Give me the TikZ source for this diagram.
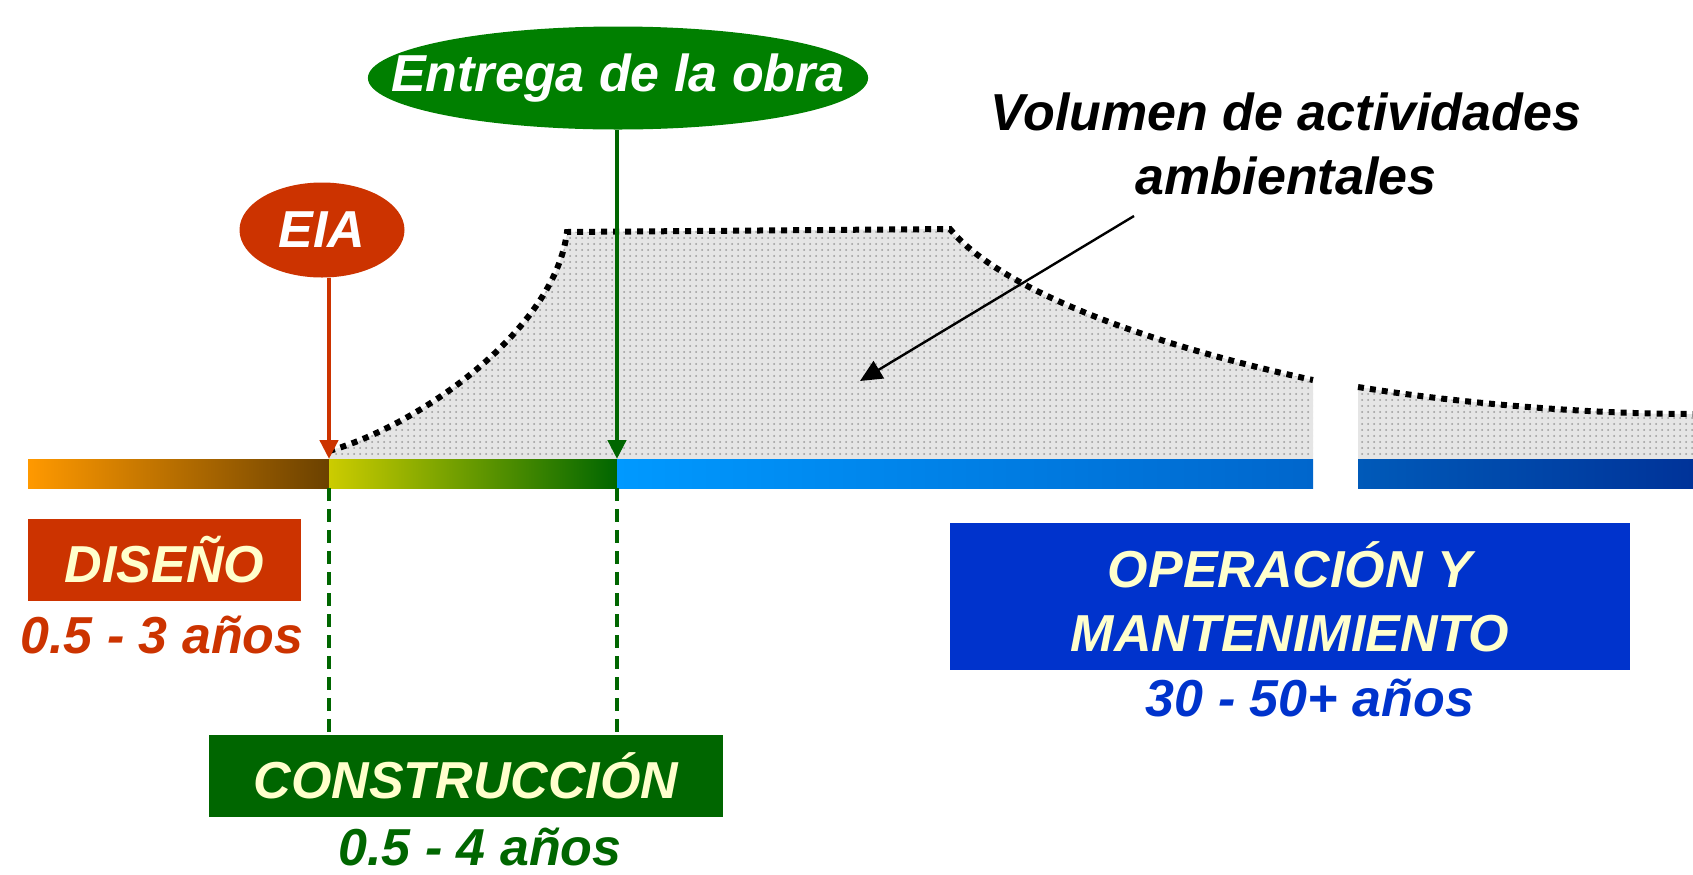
\documentclass[tikz,border=0pt]{standalone}
\usepackage{fontspec}
\setmainfont{Liberation Sans}
\usepackage{tikz}
\usetikzlibrary{positioning,shapes.geometric,arrows.meta,patterns}

\definecolor{disred}{HTML}{CC3300}
\definecolor{entgreen}{HTML}{007F00}
\definecolor{congreen}{HTML}{006600}
\definecolor{opblue}{HTML}{0033CC}
\definecolor{cream}{HTML}{FFFFCC}

\begin{document}
\begin{tikzpicture}[
		x=0.5pt, y=-0.5pt
		,font=\fontsize{26}{32}\selectfont\bfseries\itshape
		,hito/.style={ellipse, inner sep=0pt, text=white}
		,fase/.style={inner sep=0pt, text=cream, align=center}
		,plazo/.style={anchor=base}
		,flecha/.style={line width=2.2pt, -{Triangle[length=9.5pt,width=9pt]}}
		,limite/.style={congreen, line width=1.6pt, dash pattern=on 6.5pt off 4pt}
		,borde/.style={line width=3pt, dash pattern=on 3pt off 3pt}
		,volumen/.style={fill=black!10}
	]
		\useasboundingbox (0,0) rectangle (1693,874);

		% volumen de actividades
		\fill[volumen] (329,459) -- (329,451) .. controls (420,425) and (555,330) .. (567,232)
			-- (950,229) .. controls (1000,290) and (1150,345) .. (1313,380) -- (1313,459) -- cycle;
		\fill[volumen] (1358,459) -- (1358,387) .. controls (1450,402) and (1580,414) .. (1693,414)
			-- (1693,459) -- cycle;
		\fill[pattern=dots, pattern color=black!40] (329,459) -- (329,451) .. controls (420,425) and (555,330) .. (567,232)
			-- (950,229) .. controls (1000,290) and (1150,345) .. (1313,380) -- (1313,459) -- cycle;
		\fill[pattern=dots, pattern color=black!40] (1358,459) -- (1358,387) .. controls (1450,402) and (1580,414) .. (1693,414)
			-- (1693,459) -- cycle;
		\draw[borde] (329,451) .. controls (420,425) and (555,330) .. (567,232)
			-- (950,229) .. controls (1000,290) and (1150,345) .. (1313,380);
		\draw[borde] (1358,387) .. controls (1450,402) and (1580,414) .. (1693,414);

		% barra de tiempo
		\shade[left color={rgb,255:red,255;green,153;blue,0}, right color={rgb,255:red,107;green,65;blue,0}] (28,459) rectangle (329,488);
		\shade[left color={rgb,255:red,204;green,204;blue,0}, right color=congreen] (329,459) rectangle (617,488);
		\shade[left color={rgb,255:red,0;green,153;blue,255}, right color={rgb,255:red,0;green,102;blue,204}] (617,459) rectangle (1313,488);
		\shade[left color={rgb,255:red,0;green,90;blue,185}, right color={rgb,255:red,0;green,51;blue,153}] (1358,459) rectangle (1693,488);

		\coordinate (T1) at (329,459);
		\coordinate (T2) at (617,459);
		\coordinate (B1) at (329,488);
		\coordinate (B2) at (617,488);

		\node[hito, fill=disred, minimum width=82.5pt, minimum height=47.5pt] (EIA) at (322,230) {EIA};
		\node[hito, fill=entgreen, inner xsep=-25pt, minimum height=51.5pt] (ENT) at (618,78) {Entrega de la obra};

		\draw[flecha, disred] (EIA.south -| T1) -- (T1);
		\draw[flecha, congreen] (ENT.south -| T2) -- (T2);

		\node[fase, fill=disred, minimum width=136.5pt, minimum height=41pt] (DIS) at (164.5,560) {DISEÑO};
		\node[fase, fill=congreen, minimum width=257pt, minimum height=41pt] (CON) at (466,776) {CONSTRUCCIÓN};
		\node[fase, fill=opblue, minimum width=340pt, minimum height=73.5pt] (OPE) at (1290,596.5) {OPERACIÓN Y\\MANTENIMIENTO};

		\draw[limite] (B1) -- (B1 |- CON.north);
		\draw[limite] (B2) -- (B2 |- CON.north);

		\node[plazo, text=disred] (PDIS) at (162,653) {0.5 - 3 años};
		\node[plazo, text=congreen] (PCON) at (480,865) {0.5 - 4 años};
		\node[plazo, text=opblue] (POPE) at (1310,716) {30 - 50+ años};

		\node[align=center, anchor=base] (VOL) at (1286,194) {Volumen de actividades\\ambientales};
		\coordinate (V) at (860,381);
		\draw[line width=1.2pt, -{Triangle[length=11pt,width=10pt]}] (1134,216) -- (V);
	\end{tikzpicture}
\end{document}
